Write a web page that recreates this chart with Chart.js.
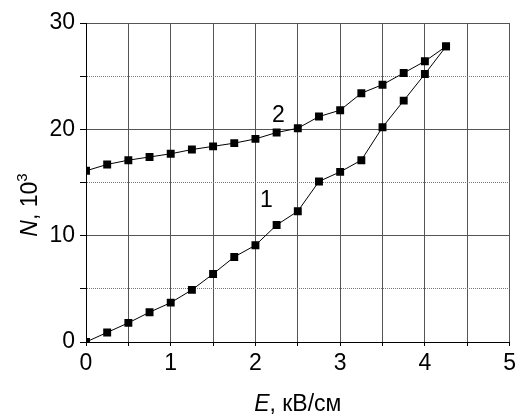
<!DOCTYPE html>
<html>
<head>
<meta charset="utf-8">
<script src="https://cdn.jsdelivr.net/npm/chart.js@4.4.0/dist/chart.umd.min.js"></script>
<style>
html, body { margin: 0; padding: 0; background: #fff; }
#wrap { width: 520px; height: 414px; }
</style>
</head>
<body>
<div id="wrap"><canvas id="chart" width="520" height="414"></canvas></div>
<script>
// E, kV/cm
const fieldE = [0, 0.25, 0.5, 0.75, 1.0, 1.25, 1.5, 1.75, 2.0, 2.25, 2.5, 2.75, 3.0, 3.25, 3.5, 3.75, 4.0, 4.25];
// N, 10^3 - curve 1 (lower) and curve 2 (upper)
const curve1 = [0, 0.9, 1.8, 2.8, 3.7, 4.9, 6.4, 8.0, 9.1, 11.0, 12.3, 15.1, 16.0, 17.1, 20.2, 22.7, 25.2, 27.8];
const curve2 = [16.1, 16.7, 17.1, 17.4, 17.7, 18.1, 18.4, 18.7, 19.1, 19.7, 20.1, 21.2, 21.8, 23.4, 24.2, 25.3, 26.4, 27.8];
const curveNames = ['1', '2'];
// where the curve numbers sit (E, N)
const curveTagE = [2.13, 2.27];
const curveTagN = [13.3, 21.3];
const xRange = [0, 5];
const yRange = [0, 30];

const FONT = 'Liberation Sans, Arial, sans-serif';

function toPoints(ys) {
    return fieldE.map((e, i) => ({ x: e, y: ys[i] }));
}

function makeSet(ys) {
    return {
        data: toPoints(ys),
        borderColor: '#000',
        backgroundColor: '#000',
        borderWidth: 1,
        pointStyle: 'rect',
        pointRadius: 5.6,
        pointBorderWidth: 0,
        tension: 0
    };
}

// axis titles and curve numbers
const textPlugin = {
    id: 'textLabels',
    afterDraw(chart) {
        const ctx = chart.ctx;
        const area = chart.chartArea;
        const xs = chart.scales.x;
        const ys = chart.scales.y;
        ctx.save();
        ctx.fillStyle = '#000';
        ctx.textBaseline = 'alphabetic';

        // x title: italic E + units
        const fI = 'italic 23px ' + FONT;
        const fR = '23px ' + FONT;
        ctx.font = fI;
        const wE = ctx.measureText('E').width;
        ctx.font = fR;
        const wRest = ctx.measureText(', кВ/см').width;
        let x0 = (area.left + area.right) / 2 - (wE + wRest) / 2;
        ctx.font = fI;
        ctx.textAlign = 'left';
        ctx.fillText('E', x0, 411);
        ctx.font = fR;
        ctx.fillText(', кВ/см', x0 + wE, 411);

        // y title, rotated
        ctx.save();
        ctx.translate(37, 205);
        ctx.rotate(-Math.PI / 2);
        ctx.font = fI;
        const wN = ctx.measureText('N').width;
        ctx.font = fR;
        const w10 = ctx.measureText(', 10').width;
        ctx.font = '15px ' + FONT;
        const w3 = ctx.measureText('3').width;
        let s = -(wN + w10 + w3) / 2;
        ctx.font = fI;
        ctx.fillText('N', s, 0);
        ctx.font = fR;
        ctx.fillText(', 10', s + wN, 0);
        ctx.font = '15px ' + FONT;
        ctx.fillText('3', s + wN + w10, -10);
        ctx.restore();

        // curve numbers
        ctx.font = fR;
        ctx.textAlign = 'center';
        ctx.textBaseline = 'middle';
        curveNames.forEach((n, i) => {
            ctx.fillText(n, xs.getPixelForValue(curveTagE[i]), ys.getPixelForValue(curveTagN[i]));
        });
        ctx.restore();
    }
};

const isMinor = (c) => c.tick && c.tick.value % 10 !== 0;

new Chart(document.getElementById('chart'), {
    type: 'line',
    data: {
        datasets: [makeSet(curve1), makeSet(curve2)]
    },
    options: {
        responsive: false,
        animation: false,
        devicePixelRatio: 1,
        layout: { padding: { top: 23, right: 7, bottom: 0, left: 0 } },
        plugins: {
            legend: { display: false },
            tooltip: { enabled: false }
        },
        scales: {
            x: {
                type: 'linear',
                min: xRange[0],
                max: xRange[1],
                afterFit: (s) => { s.height = 72; },
                ticks: {
                    stepSize: 0.5,
                    autoSkip: false,
                    maxRotation: 0,
                    padding: 4,
                    color: '#000',
                    font: { family: FONT, size: 23 },
                    callback: (v) => Number.isInteger(v) ? v : ''
                },
                grid: {
                    color: '#555',
                    lineWidth: 1,
                    tickLength: 4,
                    tickColor: '#000'
                },
                border: { color: '#000', width: 1 }
            },
            y: {
                min: yRange[0],
                max: yRange[1],
                afterFit: (s) => { s.width = 86; },
                ticks: {
                    stepSize: 5,
                    padding: 5,
                    color: '#000',
                    font: { family: FONT, size: 23 },
                    callback: (v) => v % 10 === 0 ? v : ''
                },
                grid: {
                    color: (c) => isMinor(c) ? '#777' : '#555',
                    lineWidth: 1,
                    tickLength: 6,
                    tickColor: '#000'
                },
                border: {
                    color: '#000',
                    width: 1,
                    dash: (c) => isMinor(c) ? [1, 1] : []
                }
            }
        }
    },
    plugins: [textPlugin]
});
</script>
</body>
</html>
